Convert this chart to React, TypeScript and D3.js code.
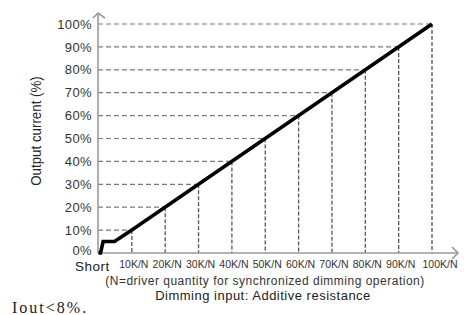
import * as d3 from "d3";

const pctTicks = [0, 10, 20, 30, 40, 50, 60, 70, 80, 90, 100];
const resTicks = [10, 20, 30, 40, 50, 60, 70, 80, 90, 100];
const resLabels = ["10K/N", "20K/N", "30K/N", "40K/N", "50K/N", "60K/N", "70K/N", "80K/N", "90K/N", "100K/N"];
// dimming curve: resistance (K/N) -> output current (%)
const curveRes = [0, 0.6, 1.4, 4.8, 10, 100];
const curvePct = [0, 0, 5, 5, 10, 100];

const W = 470;
const H = 315;

export default function App() {
  const x = d3.scaleLinear().domain([0, 100]).range([98.5, 432]);
  const y = d3.scaleLinear().domain([0, 100]).range([253, 24]);
  const x0 = 98;
  const y0 = 253;

  const line = d3
    .line<number>()
    .x((_, i) => x(curveRes[i]))
    .y((d) => y(d));

  const sans = "Arial, 'Liberation Sans', sans-serif";

  return (
    <svg
      width={W}
      height={H}
      viewBox={`0 0 ${W} ${H}`}
      style={{ position: "absolute", left: 0, top: 0, background: "#fff" }}
    >
      {/* guide dashes */}
      {resTicks.map((v) => (
        <g key={v}>
          <line
            x1={x0}
            x2={x(v)}
            y1={y(v)}
            y2={y(v)}
            stroke="#7a7a7a"
            strokeWidth={1.2}
            strokeDasharray="5,3"
          />
          <line
            x1={x(v)}
            x2={x(v)}
            y1={y(v)}
            y2={y0}
            stroke="#555"
            strokeWidth={1.3}
            strokeDasharray="4,2"
          />
        </g>
      ))}

      {/* axes */}
      <g stroke="#9a9a9a" strokeWidth={1.6} fill="none">
        <line x1={x0} x2={x0} y1={y0} y2={13} />
        <polyline points={`93,18 ${x0},13 105,18`} />
        <line x1={x0} x2={458} y1={y0} y2={y0} />
        <polyline points={`452,247 458,${y0} 452,259`} />
      </g>

      {/* curve */}
      <path
        d={line(curvePct) ?? ""}
        fill="none"
        stroke="#000"
        strokeWidth={3.6}
        strokeLinejoin="miter"
      />

      {/* y tick labels */}
      {pctTicks.map((v) => (
        <text
          key={v}
          x={92}
          y={y(v) - (v === 0 ? 2.5 : 0)}
          dy="0.36em"
          textAnchor="end"
          fontFamily={sans}
          fontSize={13}
          letterSpacing={0.4}
          fill="#333"
        >
          {v}%
        </text>
      ))}

      {/* x tick labels */}
      <text x={75} y={270.5} fontFamily={sans} fontSize={13.5} letterSpacing={0.5} fill="#222">
        Short
      </text>
      {resTicks.map((v, i) => (
        <text
          key={v}
          x={x(v) + (v === 100 ? 8 : 2)}
          y={268}
          textAnchor="middle"
          fontFamily={sans}
          fontSize={10.5}
          fill="#333"
        >
          {resLabels[i]}
        </text>
      ))}

      <text
        x={265}
        y={285}
        textAnchor="middle"
        fontFamily={sans}
        fontSize={12}
        letterSpacing={0.5}
        fill="#333"
      >
        (N=driver quantity for synchronized dimming operation)
      </text>
      <text
        x={263}
        y={300}
        textAnchor="middle"
        fontFamily={sans}
        fontSize={13}
        letterSpacing={0.5}
        fill="#222"
      >
        Dimming input: Additive resistance
      </text>

      <text
        transform={`translate(41,131) rotate(-90) scale(0.86,1)`}
        textAnchor="middle"
        fontFamily={sans}
        fontSize={15.5}
        fill="#222"
      >
        Output current (%)
      </text>

      <text
        x={12}
        y={313}
        fontFamily="'Liberation Serif', 'Times New Roman', serif"
        fontSize={16}
        letterSpacing={2}
        fill="#222"
      >
        Iout&lt;8%.
      </text>
    </svg>
  );
}
